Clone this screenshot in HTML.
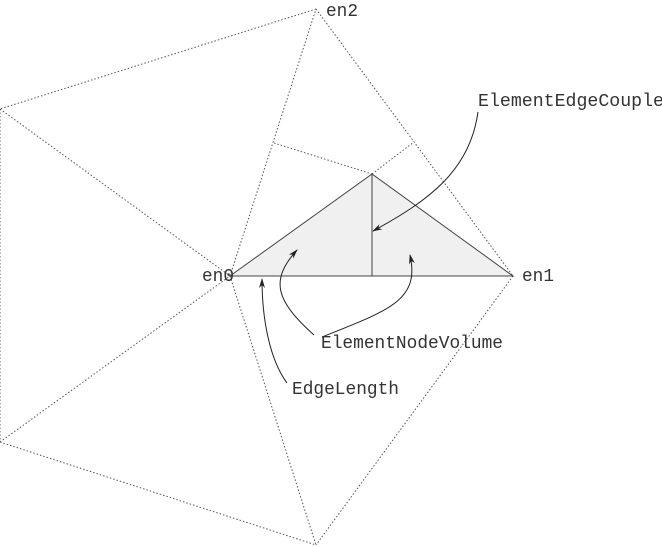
<!DOCTYPE html>
<html><head><style>html,body{margin:0;padding:0;background:#fff;}svg{display:block}</style></head>
<body>
<svg width="662" height="547" viewBox="0 0 662 547" xmlns="http://www.w3.org/2000/svg">
<defs><marker id="a" markerWidth="10" markerHeight="6" refX="9" refY="3" orient="auto" markerUnits="userSpaceOnUse"><path d="M0,0 L10,3 L0,6 L3,3z" fill="#222"/></marker></defs>
<g stroke="#555" stroke-width="1" stroke-dasharray="1.5,2" fill="none">
<line x1="230" y1="276" x2="316" y2="9"/>
<line x1="316" y1="9" x2="513" y2="276"/>
<line x1="316" y1="9" x2="0" y2="109"/>
<line x1="0" y1="109" x2="230" y2="276"/>
<line x1="0" y1="109" x2="0" y2="442"/>
<line x1="0" y1="442" x2="230" y2="276"/>
<line x1="0" y1="442" x2="316" y2="545"/>
<line x1="230" y1="276" x2="316" y2="545"/>
<line x1="513" y1="276" x2="316" y2="545"/>
<line x1="274" y1="143" x2="372" y2="174"/>
<line x1="372" y1="174" x2="414" y2="142"/>
</g>
<polygon points="230,276 372,174 513,276" fill="#f0f0f0" stroke="#444" stroke-width="1"/>
<line x1="372" y1="174" x2="372" y2="276" stroke="#444"/>
<g stroke="#222" fill="none" stroke-width="1">
<path d="M478,112 C470,170 430,200 373,231" marker-end="url(#a)"/>
<path d="M314,335 C275,300 270,280 297,250" marker-end="url(#a)"/>
<path d="M322,337 C390,310 420,300 410,255" marker-end="url(#a)"/>
<path d="M287,383 C270,360 262,320 262,279" marker-end="url(#a)"/>
</g>
<g font-family="Liberation Mono, monospace" font-size="18" fill="#333">
<text x="326" y="16" textLength="32" lengthAdjust="spacingAndGlyphs">en2</text>
<text x="202" y="281" textLength="32" lengthAdjust="spacingAndGlyphs">en0</text>
<text x="522" y="281" textLength="32" lengthAdjust="spacingAndGlyphs">en1</text>
<text x="478" y="106" textLength="186" lengthAdjust="spacingAndGlyphs">ElementEdgeCouple</text>
<text x="321" y="348" textLength="182" lengthAdjust="spacingAndGlyphs">ElementNodeVolume</text>
<text x="292" y="394" textLength="107" lengthAdjust="spacingAndGlyphs">EdgeLength</text>
</g>
</svg>
</body></html>
